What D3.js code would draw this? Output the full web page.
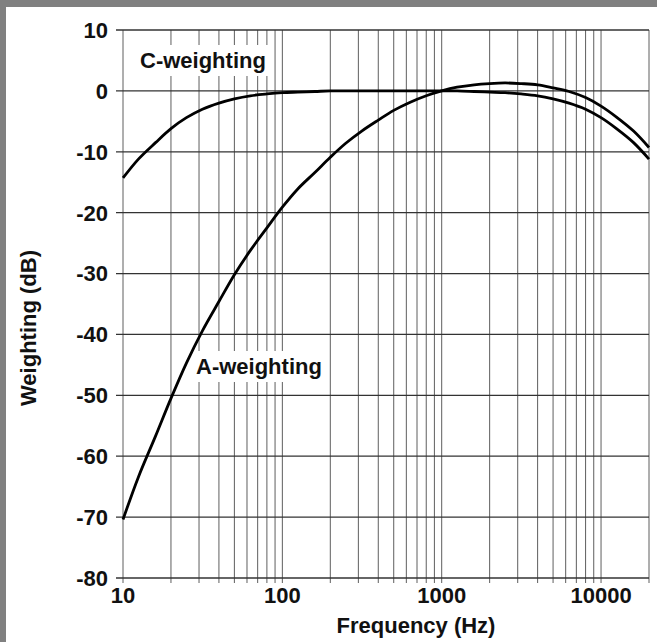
<!DOCTYPE html>
<html>
<head>
<meta charset="utf-8">
<script src="https://cdn.jsdelivr.net/npm/d3@7"></script>
<style>
  html, body { margin: 0; padding: 0; background: #fff; }
  body { width: 657px; height: 642px; overflow: hidden; }
  text { font-family: "Liberation Sans", Arial, Helvetica, sans-serif; font-weight: bold; fill: #111; }
</style>
</head>
<body>
<script>
// third-octave band centres (Hz)
const freqs = [10, 12.5, 16, 20, 25, 31.5, 40, 50, 63, 80, 100, 125, 160, 200, 250, 315, 400, 500, 630, 800,
  1000, 1250, 1600, 2000, 2500, 3150, 4000, 5000, 6300, 8000, 10000, 12500, 16000, 20000]
// (dB)
const aWeighting = [-70.4, -63.4, -56.7, -50.5, -44.7, -39.4, -34.6, -30.2, -26.2, -22.5, -19.1, -16.1, -13.4, -10.9, -8.6, -6.6, -4.8, -3.2, -1.9, -0.8,
  0, 0.6, 1.0, 1.2, 1.3, 1.2, 1.0, 0.5, -0.1, -1.1, -2.5, -4.3, -6.6, -9.3]
const cWeighting = [-14.3, -11.2, -8.5, -6.2, -4.4, -3.0, -2.0, -1.3, -0.8, -0.5, -0.3, -0.2, -0.1, 0, 0, 0, 0, 0, 0, 0,
  0, 0, -0.1, -0.2, -0.3, -0.5, -0.8, -1.3, -2.0, -3.0, -4.4, -6.2, -8.5, -11.2]
const yTicks = [10, 0, -10, -20, -30, -40, -50, -60, -70, -80]
const xTickLabels = [10, 100, 1000, 10000]

const w = 657
const h = 642
const fs = '22px'

const svg = d3.select('body')
  .append('svg')
  .attr('width', w)
  .attr('height', h)

// scanned page border
svg.append('rect').attr('x', 0).attr('y', 0).attr('width', w).attr('height', 7).attr('fill', '#808080')
svg.append('rect').attr('x', 0).attr('y', 0).attr('width', 6).attr('height', h).attr('fill', '#808080')

const x = d3.scaleLog().domain([10, 20000]).range([123, 649])
const y = d3.scaleLinear().domain([-80, 10]).range([578, 30])

// vertical grid
svg.append('g')
  .selectAll('line')
  .data(x.ticks())
  .enter().append('line')
  .attr('x1', d => x(d)).attr('x2', d => x(d))
  .attr('y1', y(10)).attr('y2', y(-80) + 5)
  .attr('stroke', '#5e5e5e')
  .attr('stroke-width', 1)

// horizontal grid
svg.append('g')
  .selectAll('line')
  .data(yTicks)
  .enter().append('line')
  .attr('x1', x(10) - 7).attr('x2', x(20000))
  .attr('y1', d => y(d)).attr('y2', d => y(d))
  .attr('stroke', '#333')
  .attr('stroke-width', 1.3)

// y tick labels
svg.append('g')
  .selectAll('text')
  .data(yTicks)
  .enter().append('text')
  .attr('x', 108)
  .attr('y', d => y(d))
  .attr('dy', '0.36em')
  .attr('text-anchor', 'end')
  .style('font-size', fs)
  .text(d => d)

// x tick labels
svg.append('g')
  .selectAll('text')
  .data(xTickLabels)
  .enter().append('text')
  .attr('x', d => x(d))
  .attr('y', 603)
  .attr('text-anchor', 'middle')
  .style('font-size', fs)
  .text(d => d)

svg.append('text')
  .attr('x', 416).attr('y', 633)
  .attr('text-anchor', 'middle')
  .style('font-size', fs)
  .text('Frequency (Hz)')

svg.append('text')
  .attr('transform', 'translate(36,328) rotate(-90)')
  .attr('text-anchor', 'middle')
  .style('font-size', fs)
  .text('Weighting (dB)')

// curve labels sit on white patches over the grid
function curveLabel(txt, lx, ly) {
  const t = svg.append('text')
    .attr('x', lx).attr('y', ly)
    .style('font-size', fs)
    .text(txt)
  const b = t.node().getBBox()
  svg.insert('rect', () => t.node())
    .attr('x', b.x - 7).attr('y', b.y - 3)
    .attr('width', b.width + 14).attr('height', b.height + 6)
    .attr('fill', '#fff')
}
curveLabel('C-weighting', 140, 68)
curveLabel('A-weighting', 196, 374)

const line = d3.line()
  .curve(d3.curveCatmullRom.alpha(0.5))
  .x(d => x(d[0]))
  .y(d => y(d[1]))

svg.append('path')
  .datum(freqs.map((f, i) => [f, aWeighting[i]]))
  .attr('d', line)
  .attr('fill', 'none')
  .attr('stroke', '#000')
  .attr('stroke-width', 2.8)

svg.append('path')
  .datum(freqs.map((f, i) => [f, cWeighting[i]]))
  .attr('d', line)
  .attr('fill', 'none')
  .attr('stroke', '#000')
  .attr('stroke-width', 2.8)
</script>
</body>
</html>
